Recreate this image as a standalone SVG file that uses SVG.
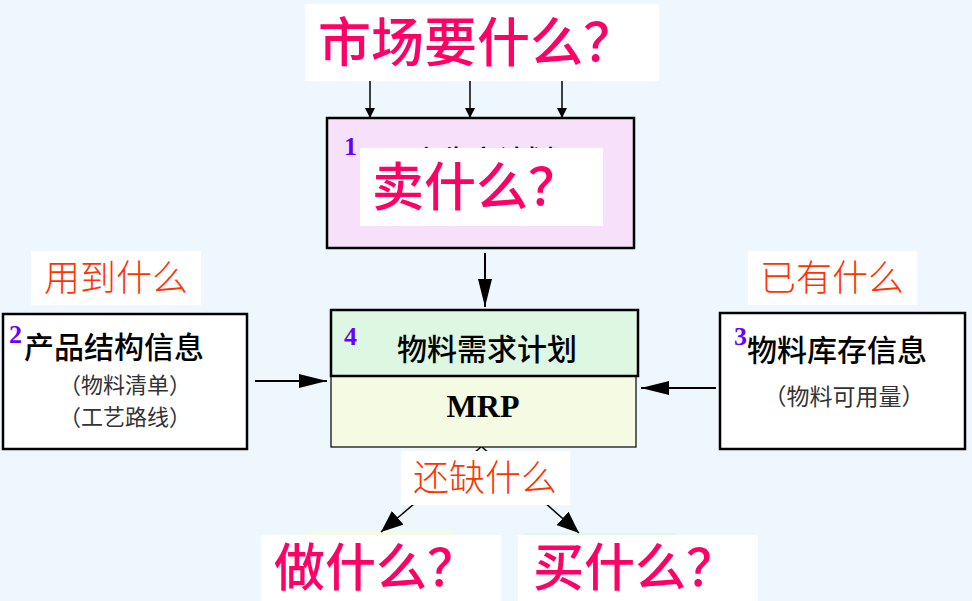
<svg xmlns="http://www.w3.org/2000/svg" width="972" height="601" viewBox="0 0 972 601">
<style>
.cjk{font-family:"Noto Sans CJK SC","Noto Sans",sans-serif}
.big{fill:#FF0066;font-size:53px;font-weight:500}
.ask{fill:#FF3300;font-size:36px;font-weight:300}
.num{font-family:"Liberation Serif",serif;font-weight:bold;fill:#6600FF;font-size:26px}
.title{fill:#000;font-size:30px;font-weight:500}
.sub{fill:#333;font-size:23px}
.lbl{fill:#fff}
.box{stroke:#000;stroke-width:2.5}
.ln{stroke:#000;stroke-width:1.5;fill:none}
</style>
<defs>
<marker id="sm" markerUnits="userSpaceOnUse" markerWidth="10" markerHeight="10" refX="10" refY="5" orient="auto"><path d="M0,0L10,5L0,10Z" fill="#000"/></marker>
<marker id="lg" markerUnits="userSpaceOnUse" markerWidth="28" markerHeight="14" refX="28" refY="7" orient="auto"><path d="M0,0L28,7L0,14Z" fill="#000"/></marker>
<marker id="md" markerUnits="userSpaceOnUse" markerWidth="22" markerHeight="18" refX="22" refY="9" orient="auto"><path d="M0,0L22,9L0,18Z" fill="#000"/></marker>
</defs>
<rect width="972" height="601" fill="#EFF7FE"/>

<g id="hidden-boxes">
<rect x="305" y="531" width="148" height="70" fill="#F5FBE3"/>
<rect x="525" y="533" width="150" height="68" fill="#DDF7E3"/>
</g>

<g id="connectors">
<line class="ln" x1="370" y1="81" x2="370" y2="118" marker-end="url(#sm)"/>
<line class="ln" x1="470" y1="81" x2="470" y2="118" marker-end="url(#sm)"/>
<line class="ln" x1="562" y1="81" x2="562" y2="118" marker-end="url(#sm)"/>
<line class="ln" x1="485" y1="253" x2="485" y2="307" marker-end="url(#lg)" style="stroke-width:2"/>
<line class="ln" x1="255" y1="381" x2="327" y2="381" marker-end="url(#lg)" style="stroke-width:2"/>
<line class="ln" x1="716" y1="388" x2="641" y2="388" marker-end="url(#lg)" style="stroke-width:2"/>
<line class="ln" x1="481" y1="447" x2="381" y2="532" marker-end="url(#md)"/>
<line class="ln" x1="482" y1="447" x2="579" y2="533" marker-end="url(#md)"/>
</g>

<g id="market">
<rect class="lbl" x="305" y="4" width="354" height="77"/>
<text class="cjk big" x="318" y="62">市场要什么？</text>
</g>

<g id="node1">
<rect class="box" x="327" y="118" width="307" height="130" fill="#F7E1FA"/>
<text class="num" x="344" y="155">1</text>
<text class="cjk title" x="484" y="171" text-anchor="middle" style="font-size:28px">主生产计划</text>
<rect class="lbl" x="360" y="148" width="243" height="78"/>
<text class="cjk big" x="372" y="206" style="font-size:52px">卖什么？</text>
</g>

<g id="node4">
<rect x="331" y="376" width="305" height="71" fill="#F5FBE3" stroke="#000" stroke-width="1.2"/>
<rect class="box" x="331" y="310" width="307" height="66" fill="#DDF7E3"/>
<text class="num" x="344" y="345">4</text>
<text class="cjk title" x="487" y="360" text-anchor="middle">物料需求计划</text>
<text x="483" y="417" text-anchor="middle" style="font-family:'Liberation Serif',serif;font-weight:bold;font-size:32px">MRP</text>
</g>

<g id="node2">
<rect class="box" x="3" y="314" width="244" height="135" fill="#fff"/>
<text class="num" x="9" y="343">2</text>
<text class="cjk title" x="24" y="358">产品结构信息</text>
<text class="cjk sub" x="125" y="393" text-anchor="middle" style="font-size:22px">（物料清单）</text>
<text class="cjk sub" x="125" y="425" text-anchor="middle" style="font-size:22px">（工艺路线）</text>
</g>

<g id="node3">
<rect class="box" x="720" y="313" width="245" height="136" fill="#fff"/>
<text class="num" x="734" y="345">3</text>
<text class="cjk title" x="747" y="361">物料库存信息</text>
<text class="cjk sub" x="844" y="405" text-anchor="middle">（物料可用量）</text>
</g>

<g id="q-use">
<rect class="lbl" x="31" y="251" width="170" height="54"/>
<text class="cjk ask" x="116" y="291" text-anchor="middle">用到什么</text>
</g>
<g id="q-have">
<rect class="lbl" x="748" y="251" width="169" height="54"/>
<text class="cjk ask" x="832" y="291" text-anchor="middle">已有什么</text>
</g>
<g id="q-lack">
<rect class="lbl" x="401" y="451" width="169" height="54"/>
<text class="cjk ask" x="485" y="491" text-anchor="middle">还缺什么</text>
</g>

<g id="make">
<rect class="lbl" x="261" y="535" width="240" height="66"/>
<text class="cjk big" x="274" y="586" style="font-size:51px">做什么？</text>
</g>
<g id="buy">
<rect class="lbl" x="518" y="535" width="240" height="66"/>
<text class="cjk big" x="533" y="586" style="font-size:51px">买什么？</text>
</g>
</svg>
